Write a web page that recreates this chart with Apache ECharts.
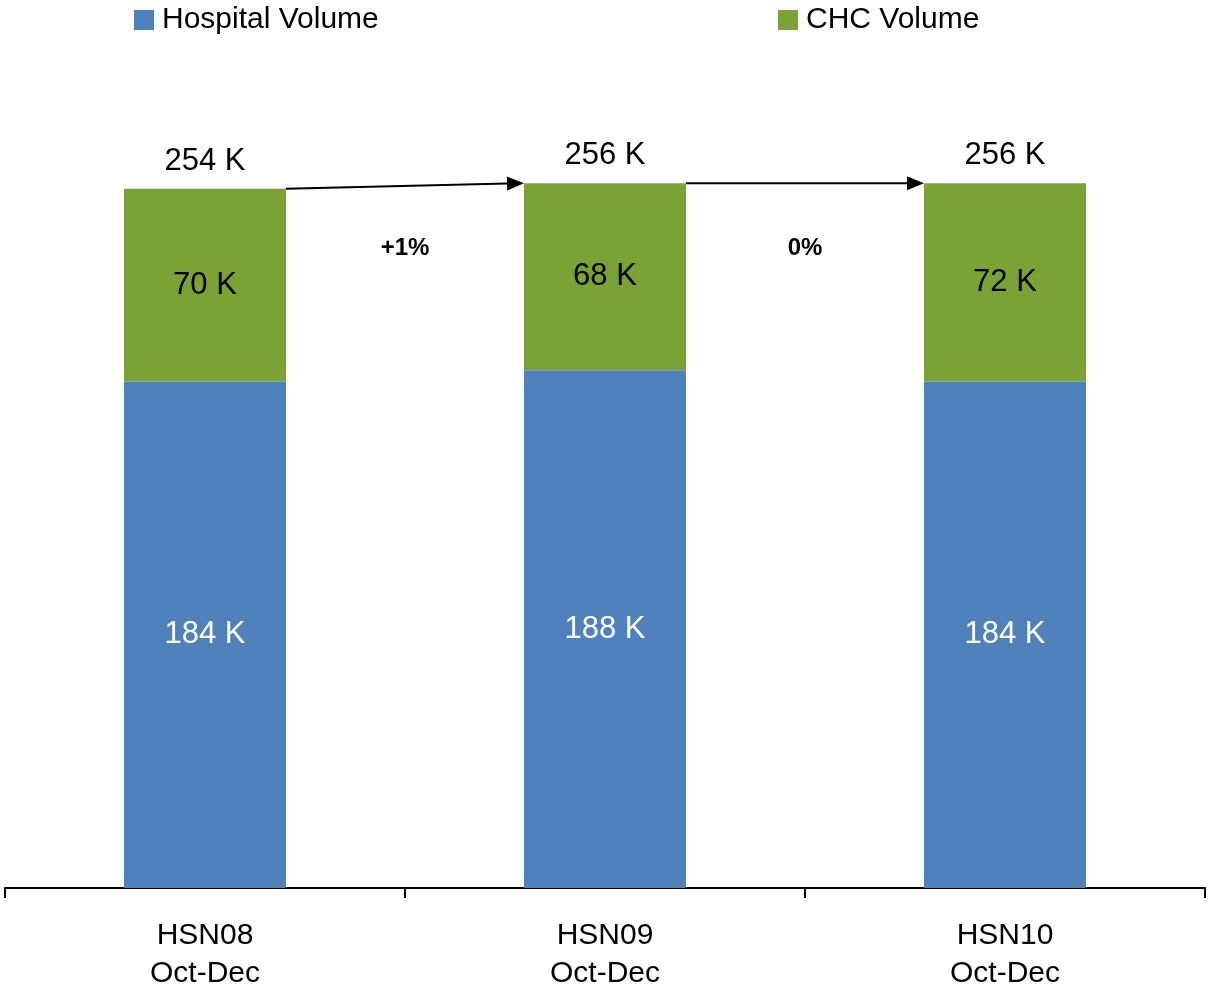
<!DOCTYPE html>
<html>
<head>
	<meta charset="utf-8">
	<title>volume chart</title>
	<script src="https://cdn.jsdelivr.net/npm/echarts@6/dist/echarts.min.js"></script>
	<style>
		html, body { margin: 0; padding: 0; background: #fff; }
		#DIV1 { width: 1210px; height: 993px; }
	</style>
</head>
<body>
	<div id="DIV1"></div>
	<script>
		// data (thousands)
		const categories = ["HSN08\nOct-Dec", "HSN09\nOct-Dec", "HSN10\nOct-Dec"];
		const hospitalVolume = [184, 188, 184];
		const chcVolume = [70, 68, 72];
		const changeLabels = ["+1%", "0%"];

		const BLUE = "#4F81BD", GREEN = "#7AA234";
		const FONT = "Liberation Sans, Arial, sans-serif";
		const BAR_RATIO = 0.405;

		const totals = hospitalVolume.map((v, i) => v + chcVolume[i]);
		const maxTotal = Math.max.apply(null, totals);
		const arrowData = changeLabels.map((l, i) => [i, totals[i], totals[i + 1]]);

		const chart = echarts.init(document.getElementById("DIV1"));

		// arrow between bar tops, with the change % below it
		const renderArrow = function(params, api){
			const i = api.value(0);
			const bw = api.size([1, 0])[0] * BAR_RATIO;
			const p0 = api.coord([i, api.value(1)]);
			const p1 = api.coord([i + 1, api.value(2)]);
			const x0 = p0[0] + bw / 2, y0 = p0[1];
			const x1 = p1[0] - bw / 2, y1 = p1[1];
			const ang = Math.atan2(y1 - y0, x1 - x0);
			const hl = 17, hw = 7;
			const bx = x1 - hl * Math.cos(ang), by = y1 - hl * Math.sin(ang);
			const nx = -Math.sin(ang) * hw, ny = Math.cos(ang) * hw;
			const ty = api.coord([i, maxTotal])[1] + 65;
			return {
				type: "group",
				children: [
					{ type: "line", shape: { x1: x0, y1: y0, x2: bx, y2: by },
						style: { stroke: "#000", lineWidth: 2 } },
					{ type: "polygon", shape: { points: [[x1, y1], [bx + nx, by + ny], [bx - nx, by - ny]] },
						style: { fill: "#000" } },
					{ type: "text", x: (x0 + x1) / 2, y: ty,
						style: { text: changeLabels[params.dataIndex], fill: "#000",
							font: "bold 24px " + FONT, align: "center", verticalAlign: "middle" } }
				]
			};
		};

		const legendBase = {
			top: 0,
			itemWidth: 20, itemHeight: 20,
			icon: "rect",
			textStyle: { fontSize: 30, color: "#000", padding: [0, 0, 0, 3] }
		};

		const option = {
			animation: false,
			backgroundColor: "#fff",
			textStyle: { fontFamily: FONT },
			legend: [
				Object.assign({ left: 129, data: ["Hospital Volume"] }, legendBase),
				Object.assign({ left: 773, data: ["CHC Volume"] }, legendBase)
			],
			grid: { left: 5, right: 5, top: 62, bottom: 99 },
			xAxis: {
				type: "category",
				data: categories,
				axisLine: { lineStyle: { color: "#000", width: 2 } },
				axisTick: { show: true, length: 10, lineStyle: { color: "#000", width: 2 } },
				axisLabel: { color: "#000", fontSize: 30, lineHeight: 38, margin: 29 }
			},
			yAxis: { type: "value", min: 0, max: 300, show: false, splitLine: { show: false } },
			series: [
				{
					name: "Hospital Volume", type: "bar", stack: "vol",
					barWidth: (BAR_RATIO * 100) + "%",
					itemStyle: { color: BLUE },
					label: { show: true, position: "inside", color: "#fff", fontSize: 31,
						formatter: p => p.value + " K" },
					data: hospitalVolume
				},
				{
					name: "CHC Volume", type: "bar", stack: "vol",
					barWidth: (BAR_RATIO * 100) + "%",
					itemStyle: { color: GREEN },
					label: { show: true, position: "inside", color: "#000", fontSize: 31,
						formatter: p => p.value + " K" },
					data: chcVolume
				},
				{
					name: "total", type: "bar", stack: "vol",
					barWidth: (BAR_RATIO * 100) + "%",
					itemStyle: { color: "transparent" },
					label: { show: true, position: "top", distance: 12, color: "#000", fontSize: 31,
						formatter: p => totals[p.dataIndex] + " K" },
					data: totals.map(() => 0)
				},
				{
					type: "custom", name: "arrows",
					renderItem: renderArrow,
					clip: false, silent: true,
					encode: { x: 0, y: 1 },
					data: arrowData,
					z: 5
				}
			]
		};
		chart.setOption(option);
	</script>
</body>
</html>
